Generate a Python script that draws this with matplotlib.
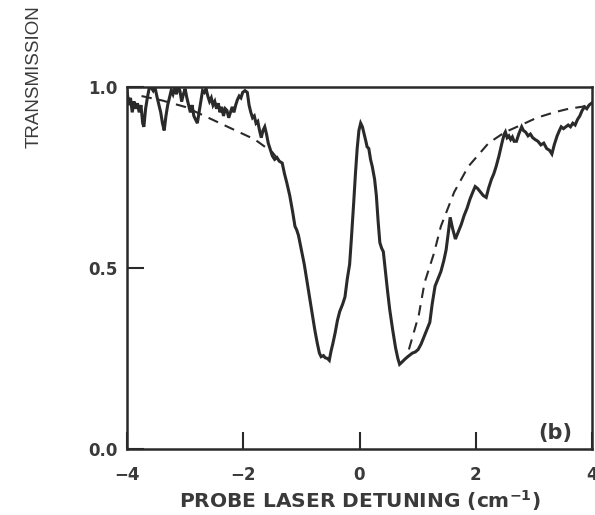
import matplotlib
matplotlib.use("Agg")
import matplotlib.pyplot as plt

plt.rcParams["font.family"] = ["DejaVu Sans"]

# ── measured transmission (solid trace) ─────────────────────────────────────
det_meas = [-4.00, -3.97, -3.94, -3.91, -3.88, -3.85, -3.82, -3.79, -3.76, -3.73,
            -3.71, -3.68, -3.65, -3.62, -3.59, -3.55, -3.52, -3.48, -3.45, -3.42,
            -3.39, -3.36, -3.33, -3.30, -3.27, -3.24, -3.21, -3.18, -3.15, -3.12,
            -3.09, -3.06, -3.03, -3.00, -2.97, -2.94, -2.91, -2.88, -2.85, -2.82,
            -2.79, -2.76, -2.73, -2.70, -2.67, -2.64, -2.61, -2.58, -2.55, -2.52,
            -2.49, -2.46, -2.43, -2.40, -2.37, -2.34, -2.31, -2.28, -2.25, -2.22,
            -2.19, -2.16, -2.13, -2.10, -2.07, -2.04, -2.01, -1.97, -1.93, -1.90,
            -1.87, -1.84, -1.81, -1.78, -1.75, -1.72, -1.69, -1.66, -1.63, -1.60,
            -1.57, -1.54, -1.50, -1.46, -1.42, -1.38, -1.33, -1.29, -1.25, -1.20,
            -1.15, -1.11, -1.08, -1.05, -1.00, -0.95, -0.90, -0.85, -0.81, -0.77,
            -0.73, -0.69, -0.66, -0.62, -0.59, -0.55, -0.52, -0.49, -0.46, -0.42,
            -0.38, -0.34, -0.29, -0.25, -0.21, -0.17, -0.14, -0.10, -0.07, -0.04,
            -0.01, 0.02, 0.05, 0.08, 0.11, 0.13, 0.16, 0.19, 0.22, 0.26,
            0.29, 0.32, 0.35, 0.38, 0.41, 0.44, 0.48, 0.52, 0.57, 0.62,
            0.66, 0.69, 0.73, 0.78, 0.83, 0.87, 0.91, 0.96, 1.01, 1.06,
            1.11, 1.16, 1.21, 1.25, 1.30, 1.35, 1.40, 1.45, 1.49, 1.53,
            1.56, 1.60, 1.65, 1.70, 1.75, 1.80, 1.85, 1.90, 1.95, 1.99,
            2.03, 2.08, 2.13, 2.18, 2.22, 2.27, 2.31, 2.35, 2.40, 2.45,
            2.49, 2.51, 2.54, 2.57, 2.60, 2.63, 2.66, 2.70, 2.74, 2.79,
            2.82, 2.86, 2.90, 2.94, 2.98, 3.02, 3.07, 3.12, 3.17, 3.22,
            3.27, 3.31, 3.35, 3.40, 3.44, 3.47, 3.51, 3.55, 3.59, 3.63,
            3.67, 3.71, 3.75, 3.79, 3.83, 3.87, 3.91, 3.95, 3.99]
trans_meas = [0.99, 0.95, 0.97, 0.93, 0.96, 0.94, 0.955, 0.93, 0.95, 0.90,
              0.89, 0.94, 0.97, 0.995, 1.00, 0.99, 1.00, 0.97, 0.95, 0.93,
              0.90, 0.88, 0.92, 0.95, 0.97, 0.99, 0.98, 1.00, 0.98, 1.00,
              0.99, 0.96, 0.98, 0.995, 0.97, 0.95, 0.93, 0.95, 0.92, 0.91,
              0.90, 0.93, 0.96, 0.99, 0.985, 0.995, 0.975, 0.96, 0.97, 0.95,
              0.96, 0.94, 0.955, 0.93, 0.945, 0.92, 0.94, 0.935, 0.915, 0.93,
              0.945, 0.93, 0.95, 0.965, 0.975, 0.97, 0.985, 0.99, 0.985, 0.95,
              0.93, 0.915, 0.92, 0.90, 0.905, 0.88, 0.86, 0.88, 0.89, 0.87,
              0.845, 0.83, 0.81, 0.80, 0.805, 0.795, 0.79, 0.76, 0.735, 0.70,
              0.655, 0.615, 0.605, 0.59, 0.55, 0.51, 0.46, 0.41, 0.37, 0.33,
              0.295, 0.265, 0.255, 0.258, 0.252, 0.25, 0.245, 0.27, 0.29, 0.32,
              0.355, 0.38, 0.40, 0.42, 0.47, 0.51, 0.58, 0.68, 0.76, 0.83,
              0.88, 0.90, 0.89, 0.87, 0.85, 0.835, 0.83, 0.80, 0.78, 0.745,
              0.70, 0.63, 0.57, 0.555, 0.545, 0.50, 0.44, 0.385, 0.33, 0.28,
              0.25, 0.234, 0.24, 0.248, 0.255, 0.26, 0.265, 0.268, 0.275, 0.29,
              0.31, 0.33, 0.35, 0.40, 0.45, 0.47, 0.49, 0.52, 0.55, 0.60,
              0.64, 0.61, 0.58, 0.60, 0.62, 0.645, 0.665, 0.69, 0.71, 0.725,
              0.72, 0.71, 0.70, 0.695, 0.72, 0.745, 0.76, 0.78, 0.81, 0.845,
              0.87, 0.876, 0.86, 0.865, 0.855, 0.862, 0.85, 0.85, 0.87, 0.89,
              0.88, 0.875, 0.865, 0.87, 0.86, 0.855, 0.85, 0.84, 0.845, 0.83,
              0.825, 0.815, 0.84, 0.865, 0.88, 0.89, 0.885, 0.89, 0.895, 0.89,
              0.90, 0.895, 0.91, 0.92, 0.935, 0.945, 0.94, 0.95, 0.955]

# ── calculated wings (dashed) ───────────────────────────────────────────────
det_calc_left = [-3.75, -3.40, -3.00, -2.60, -2.20, -1.80, -1.50, -1.35]
trans_calc_left = [0.975, 0.963, 0.945, 0.915, 0.885, 0.855, 0.82, 0.79]
det_calc_right = [0.85, 1.02, 1.12, 1.28, 1.40, 1.63, 1.87, 2.22, 2.50, 2.78,
                  3.05, 3.35, 3.60, 3.81, 4.00]
trans_calc_right = [0.275, 0.37, 0.46, 0.54, 0.615, 0.71, 0.78, 0.845, 0.875, 0.895,
                    0.915, 0.93, 0.94, 0.945, 0.95]

x_ticks = [-4, -2, 0, 2, 4]
x_ticklabels = ["\u22124", "\u22122", "0", "2", "4"]
y_ticks = [0.0, 0.5, 1.0]
y_ticklabels = ["0.0", "0.5", "1.0"]

INK = "#2a2a2a"
TXT = "#3a3a3a"
W, H = 595, 515

fig = plt.figure(figsize=(W / 100, H / 100), dpi=100)
ax = fig.add_axes([127 / W, 1 - 449 / H, (592 - 127) / W, (449 - 87) / H])

ax.plot(det_meas, trans_meas, color=INK, lw=2.2, solid_joinstyle="miter")
ax.plot(det_calc_left, trans_calc_left, color=INK, lw=1.5, ls=(0, (5, 3.5)))
ax.plot(det_calc_right, trans_calc_right, color=INK, lw=1.5, ls=(0, (5, 3.5)))

ax.set_xlim(-4, 4)
ax.set_ylim(0, 1.0)
ax.set_xticks(x_ticks)
ax.set_xticklabels(x_ticklabels, fontsize=12, fontweight="bold")
ax.set_yticks(y_ticks)
ax.set_yticklabels(y_ticklabels, fontsize=12, fontweight="bold")
ax.tick_params(axis="both", direction="in", length=12, width=1.5, color=INK,
               labelcolor=TXT)
ax.tick_params(axis="x", pad=12)
ax.tick_params(axis="y", pad=7)
for s in ax.spines.values():
    s.set_linewidth(1.8)
    s.set_color(INK)

ax.text(572 / W, 1 - 433 / H, "(b)", transform=fig.transFigure, ha="right",
        va="center", fontsize=15, fontweight="bold", color=TXT)
fig.text(360 / W, 1 - 501 / H, "PROBE LASER DETUNING (cm$^{\\mathbf{-1}}$)",
         ha="center", va="center", fontsize=14.5, fontweight="bold", color=TXT)
fig.text(34 / W, 1 - 77 / H, "TRANSMISSION", rotation=90, ha="center",
         va="center", fontsize=13.5, color=TXT, family="Liberation Sans")

fig.savefig("out.png", dpi=100)
